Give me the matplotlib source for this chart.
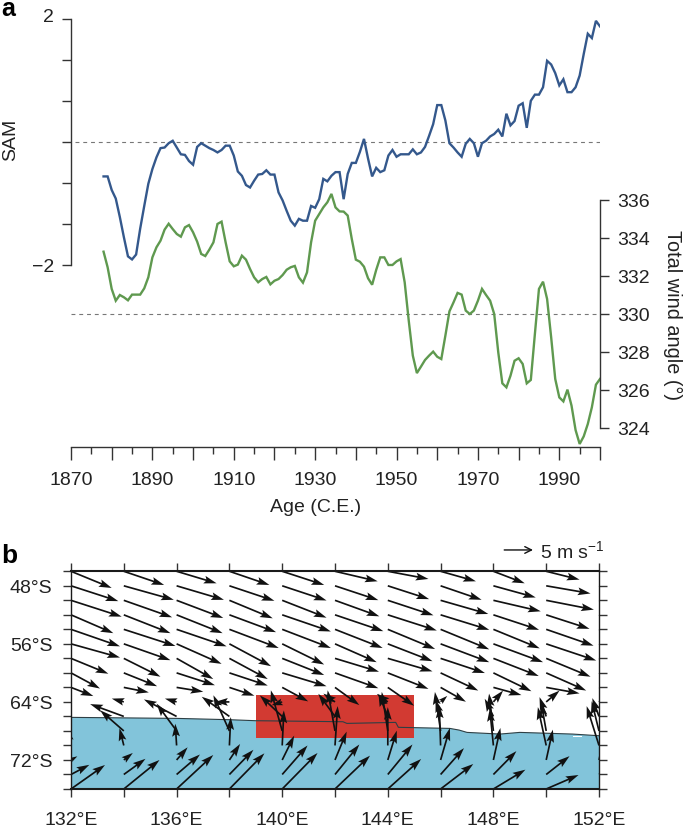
import numpy as np
import matplotlib
matplotlib.use("Agg")
import matplotlib.pyplot as plt
from matplotlib.transforms import ScaledTranslation

plt.rcParams['font.family'] = ['Liberation Sans', 'DejaVu Sans']
plt.rcParams['mathtext.fontset'] = 'custom'
plt.rcParams['mathtext.rm'] = 'Liberation Sans'
plt.rcParams['mathtext.default'] = 'regular'

W, H = 685, 829
INK = '#222222'
AX = '#333333'

FIRST_YEAR = 1878
sam = [-0.56,-0.56,-0.78,-0.92,-1.22,-1.55,-1.86,-1.91,-1.83,-1.41,-1.04,-0.68,-0.44,-0.25,-0.10,-0.09,-0.02,0.02,
       -0.09,-0.20,-0.21,-0.31,-0.37,-0.08,-0.02,-0.06,-0.10,-0.13,-0.17,-0.13,-0.06,-0.06,-0.22,-0.48,-0.55,-0.70,
       -0.74,-0.63,-0.53,-0.52,-0.46,-0.53,-0.53,-0.82,-0.95,-1.12,-1.28,-1.36,-1.25,-1.28,-1.28,-1.04,-1.07,-0.93,
       -0.60,-0.64,-0.55,-0.49,-0.49,-0.93,-0.52,-0.34,-0.34,-0.16,0.05,-0.27,-0.56,-0.42,-0.49,-0.46,-0.22,-0.13,
       -0.24,-0.20,-0.20,-0.20,-0.12,-0.20,-0.17,-0.08,0.10,0.29,0.60,0.60,0.35,-0.02,-0.09,-0.17,-0.24,-0.03,0.05,
       -0.02,-0.24,-0.02,0.02,0.09,0.13,0.20,0.09,0.46,0.27,0.34,0.59,0.63,0.23,0.67,0.77,0.77,0.89,1.32,1.26,1.12,
       0.92,1.02,0.81,0.81,0.89,1.08,1.43,1.76,1.69,1.97,1.88]
wind_angle = [333.28,332.46,331.32,330.70,331.00,330.88,330.72,331.02,331.02,331.02,331.35,331.93,332.98,333.51,
              333.86,334.44,334.75,334.47,334.21,334.07,334.56,334.68,334.30,333.81,333.16,333.05,333.39,333.77,
              334.74,334.86,333.77,332.77,332.51,332.60,333.07,332.86,332.37,331.93,331.67,331.84,331.95,331.56,
              331.75,331.84,332.05,332.33,332.46,332.53,331.93,331.65,332.19,333.77,334.91,335.26,335.61,335.88,
              336.32,335.61,335.40,335.39,335.18,333.95,332.86,332.75,332.49,331.88,331.54,332.32,332.98,332.98,
              332.58,332.58,332.77,332.89,331.67,329.65,327.81,326.89,327.23,327.58,327.81,328.02,327.75,327.63,
              328.86,330.14,330.61,331.11,331.02,330.18,330.00,330.18,330.70,331.32,331.00,330.70,330.00,327.98,
              326.35,326.14,326.75,327.54,327.67,327.37,326.35,326.53,328.95,331.32,331.70,330.79,328.77,326.58,
              325.61,325.40,326.02,325.18,323.89,323.16,323.56,324.21,325.09,326.28,326.58]

sam_ticks = [-2, -4/3, -2/3, 0, 2/3, 4/3, 2]
angle_ticks = [324, 326, 328, 330, 332, 334, 336]
year_major = list(range(1870, 2001, 10))
year_minor = list(range(1875, 2000, 10))
year_labels = [str(y) if (y - 1870) % 20 == 0 else '' for y in year_major]

# Wind counts per grid column, rows from 46S to 76S (87 counts = 5 m/s)
WIND_UNIT = 5 / 87
lats = list(range(-46, -78, -2))
lons = list(range(132, 154, 2))
u_132 = [122,142,152,127,147,147,112,87,67,-35,-100,-70,-13,19,55,102]
v_132 = [-50,-46,-49,-55,-51,-41,-46,-47,-26,10,37,60,52,11,29,72]
u_134 = [121,150,145,140,155,140,110,100,75,-36,-101,-71,-13,27,65,107]
v_134 = [-41,-42,-51,-55,-50,-49,-55,-40,-15,10,37,62,52,21,47,87]
u_136 = [120,142,140,138,150,135,110,115,80,-35,-98,-60,-4,33,70,110]
v_136 = [-36,-42,-53,-55,-51,-60,-62,-37,-13,10,51,82,65,38,60,102]
u_138 = [120,135,130,140,148,125,115,115,75,-43,-83,-48,4,32,72,105]
v_138 = [-41,-45,-54,-52,-56,-67,-62,-38,-25,0,59,107,85,48,74,107]
u_140 = [126,133,133,146,146,126,126,133,78,-32,-67,-34,5,36,76,106]
v_140 = [-41,-44,-52,-50,-56,-62,-50,-40,-42,-10,63,122,105,73,87,108]
u_142 = [128,130,133,145,143,125,132,130,73,-35,-50,-22,8,35,73,105]
v_142 = [-30,-43,-48,-49,-56,-55,-40,-46,-53,25,68,122,118,85,90,100]
u_144 = [122,124,137,147,142,134,134,122,79,-33,-28,-18,0,27,74,100]
v_144 = [-23,-40,-45,-47,-59,-52,-39,-48,-55,24,68,117,115,88,90,90]
u_146 = [106,123,143,146,146,146,133,113,76,20,-15,-17,-4,28,70,98]
v_146 = [-30,-42,-41,-45,-60,-55,-44,-53,-43,18,50,117,120,96,79,75]
u_148 = [94,127,142,137,139,149,136,114,84,29,-26,-13,-11,21,69,96]
v_148 = [-36,-35,-33,-45,-57,-55,-53,-55,-23,34,53,112,110,96,70,58]
u_150 = [100,133,143,130,142,150,133,120,100,40,-20,-15,-25,20,70,97]
v_150 = [-25,-23,-28,-42,-49,-50,-55,-53,-18,34,58,85,115,91,55,42]
u_152 = [100,130,140,130,140,145,130,120,100,40,-20,-22,-37,20,70,97]
v_152 = [-25,-23,-28,-42,-49,-50,-55,-53,-18,34,55,89,118,91,55,42]

coast_lon = [132.0,136.0,138.0,139.0,142.3,142.45,144.3,144.4,146.35,146.7,147.0,148.25,149.0,151.0,152.0]
coast_lat = [-66.13,-66.27,-66.45,-66.59,-66.73,-66.96,-66.82,-67.5,-67.65,-67.88,-68.2,-68.43,-68.2,-68.43,-68.66]
region_lon = [139, 145]
region_lat = [-69, -63]
lat_labelled = [-48, -56, -64, -72]
lon_labelled = [132, 136, 140, 144, 148, 152]

fig = plt.figure(figsize=(W / 100, H / 100), dpi=100)

def px_axes(l, t, r, b):
    return fig.add_axes([l / W, 1 - b / H, (r - l) / W, (b - t) / H])

# ---------- panel a ----------
ax = px_axes(71, 20, 600, 448)
ax.set_facecolor('none')
ax.set_xlim(1870, 2000)
ax.set_ylim(-4.96, 2)
ax2 = ax.twinx()
ax2.set_facecolor('none')
ax2.set_ylim(323, 345.526)

years = np.arange(FIRST_YEAR, FIRST_YEAR + len(sam))
years2 = np.arange(FIRST_YEAR, FIRST_YEAR + len(wind_angle))
ax.hlines(0, 1871, 2000, color='#777777', lw=0.8, linestyles=(0, (3.5, 3.5)))
ax2.hlines(330, 1870, 2000, color='#777777', lw=0.8, linestyles=(0, (3.5, 3.5)))
ax.plot(years, sam, color='#34588C', lw=1.7, solid_joinstyle='miter')
ax2.plot(years2, wind_angle, color='#5F994F', lw=1.7, solid_joinstyle='miter')

for a in (ax, ax2):
    for s in a.spines.values():
        s.set_visible(False)
        s.set_linewidth(1.0)
        s.set_color(AX)

ax.spines['left'].set_visible(True)
ax.spines['left'].set_bounds(-2, 2)
ax.spines['bottom'].set_visible(True)
ax2.spines['right'].set_visible(True)
ax2.spines['right'].set_bounds(324, 336)

ax.set_yticks(sam_ticks)
ax.set_yticklabels(['\u22122', '', '', '', '', '', '2'], fontsize=14, color=INK)
ax.tick_params(axis='y', length=6.8, width=1.0, color=AX, pad=5.5)
top_label = ax.get_yticklabels()[-1]
top_label.set_transform(top_label.get_transform() + ScaledTranslation(0, 4.5 / 100, fig.dpi_scale_trans))

ax.set_xticks(year_major)
ax.set_xticklabels(year_labels, fontsize=14, color=INK)
ax.set_xticks(year_minor, minor=True)
ax.tick_params(axis='x', which='major', length=9, width=1.0, color=AX, pad=8.5)
ax.tick_params(axis='x', which='minor', length=5, width=1.0, color=AX)

ax2.set_yticks(angle_ticks)
ax2.set_yticklabels([str(t) for t in angle_ticks], fontsize=14, color=INK)
ax2.tick_params(axis='y', length=6.5, width=1.0, color=AX, pad=6)

fig.text(11 / W, 1 - 140 / H, 'SAM', rotation=90, ha='center', va='center', fontsize=14, color=INK)
fig.text(673 / W, 1 - 315 / H, 'Total wind angle (\u00b0)', rotation=270, ha='center', va='center', fontsize=14.3, color=INK)
fig.text(316 / W, 1 - 507 / H, 'Age (C.E.)', ha='center', va='center', fontsize=14, color=INK)
fig.text(1 / W, 1 - 16 / H, 'a', ha='left', va='baseline', fontsize=18, fontweight='bold', color='black')
fig.text(1 / W, 1 - 563 / H, 'b', ha='left', va='baseline', fontsize=19, fontweight='bold', color='black')

# ---------- panel b ----------
bx = px_axes(71, 572.3, 599, 790)
bx.set_xlim(132, 152)
bx.set_ylim(-76, -46)

poly_x = [132] + coast_lon + [152]
poly_y = [-76] + coast_lat + [-76]
bx.fill(poly_x, poly_y, color='#82C4DA', lw=0, zorder=1)
bx.fill([151.03, 151.35, 151.35, 151.03], [-68.66, -68.66, -68.88, -68.88], color='white', lw=0, zorder=1.1)
bx.add_patch(plt.Rectangle((region_lon[0], region_lat[0]), region_lon[1] - region_lon[0],
                           region_lat[1] - region_lat[0], facecolor='#D23A32', edgecolor='none', zorder=1.5))
bx.plot(coast_lon, coast_lat, color='#2E3F44', lw=0.8, zorder=2)

U = np.array([u_132, u_134, u_136, u_138, u_140, u_142, u_144, u_146, u_148, u_150, u_152]).T * WIND_UNIT
V = np.array([v_132, v_134, v_136, v_138, v_140, v_142, v_144, v_146, v_148, v_150, v_152]).T * WIND_UNIT
X, Y = np.meshgrid(lons, lats)
bx.quiver(X, Y, U, V, angles='uv', scale_units='dots', scale=1 / 5.8, units='dots', width=1.7,
          headwidth=4.6, headlength=7.5, headaxislength=6.4, pivot='tail', color='#111111', zorder=3)

bx.set_xticks(lons)
bx.set_xticklabels([f'{x}\u00b0E' if x in lon_labelled else '' for x in lons], fontsize=14, color=INK)
bx.set_yticks(lats)
bx.set_yticklabels([f'{-y}\u00b0S' if y in lat_labelled else '' for y in lats], fontsize=14, color=INK)
bx.tick_params(axis='both', which='major', length=5.5, width=1.0, color=AX, top=True, right=True, pad=8)
bx.tick_params(axis='x', pad=10.5)
for side, lw in (('top', 1.5), ('bottom', 1.5), ('left', 1.0), ('right', 1.0)):
    bx.spines[side].set_linewidth(lw)
    bx.spines[side].set_color('#1a1a1a')
    bx.spines[side].set_zorder(5)

bx.annotate('', xy=(149.5, -43.06), xytext=(148.41, -43.06), annotation_clip=False,
            arrowprops=dict(arrowstyle='->', lw=1.0, color='#111111', shrinkA=0, shrinkB=0, mutation_scale=12))
bx.text(149.75, -43.06, '5 m s$^{\u22121}$', fontsize=14, color=INK, ha='left', va='center', clip_on=False)

fig.savefig('out.png', dpi=100)
